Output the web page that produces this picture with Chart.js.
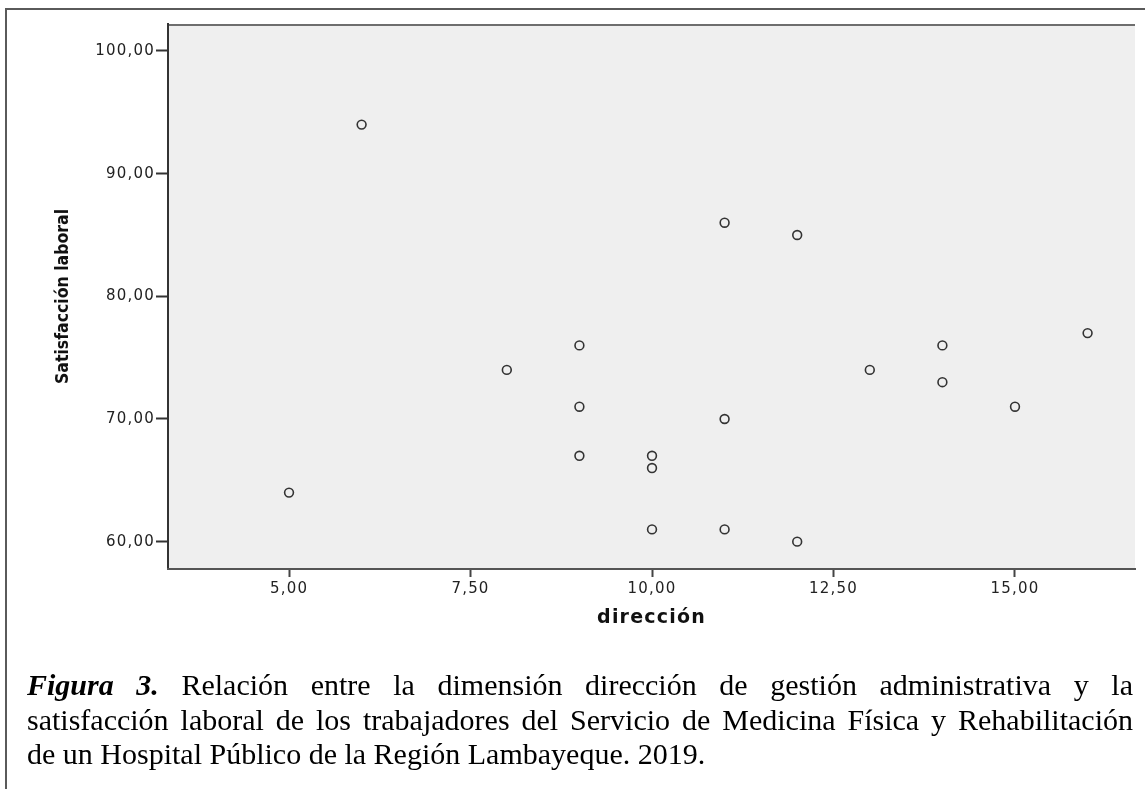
<!DOCTYPE html>
<html>
<head>
<meta charset="utf-8">
<script src="https://cdn.jsdelivr.net/npm/chart.js@4"></script>
<style>
  html, body { margin: 0; padding: 0; background: #fff; }
  body { width: 1145px; height: 789px; overflow: hidden; position: relative; }
  #grafico { position: absolute; left: 0; top: 0; display: block; }
  #leyenda { position: absolute; left: 27px; top: 668px; width: 1106px;
             font-family: 'Liberation Serif', 'Times New Roman', serif; font-size: 30px;
             line-height: 34.5px; color: #000; }
  .j { text-align: justify; text-align-last: justify; }
</style>
</head>
<body>
<canvas id="grafico" width="1145" height="789"></canvas>
<div id="leyenda">
  <div class="j"><b><i>Figura 3.</i></b> Relación entre la dimensión dirección de gestión administrativa y la</div>
  <div class="j">satisfacción laboral de los trabajadores del Servicio de Medicina Física y Rehabilitación</div>
  <div>de un Hospital Público de la Región Lambayeque. 2019.</div>
</div>
<script>
// datos (dirección vs satisfacción laboral)
const direccion = [5, 6, 8, 9, 9, 9, 10, 10, 10, 11, 11, 11, 12, 12, 13, 14, 14, 15, 16];
const satisfaccion = [64, 94, 74, 76, 71, 67, 67, 66, 61, 86, 70, 61, 85, 60, 74, 76, 73, 71, 77];

// marcas de los ejes
const xTicks = [5, 7.5, 10, 12.5, 15];
const xTickLabels = ['5,00', '7,50', '10,00', '12,50', '15,00'];
const yTicks = [60, 70, 80, 90, 100];
const yTickLabels = ['60,00', '70,00', '80,00', '90,00', '100,00'];

const puntos = direccion.map((d, i) => ({ x: d, y: satisfaccion[i] }));

// marco de la figura, fondo gris del área y espaciado de letras (estilo SPSS)
const fondo = {
  id: 'fondo',
  beforeDraw(chart) {
    const { ctx, chartArea: a } = chart;
    ctx.letterSpacing = '0px';
    ctx.save();
    // marco exterior
    ctx.strokeStyle = '#5a5a5a';
    ctx.lineWidth = 2;
    ctx.beginPath();
    ctx.moveTo(6, chart.height);
    ctx.lineTo(6, 9);
    ctx.lineTo(chart.width, 9);
    ctx.stroke();
    // área del gráfico
    ctx.fillStyle = '#efefef';
    ctx.fillRect(a.left, a.top, a.right - a.left, a.bottom - a.top);
    ctx.strokeStyle = '#6e6e6e';
    ctx.beginPath();
    ctx.moveTo(a.left, a.top + 1);
    ctx.lineTo(a.right, a.top + 1);
    ctx.stroke();
    ctx.restore();
  },
  afterDatasetsDraw(chart) { chart.ctx.letterSpacing = '1.2px'; },
  afterDraw(chart) { chart.ctx.letterSpacing = '0px'; }
};

const ctx = document.getElementById('grafico').getContext('2d');
const grafico = new Chart(ctx, {
  type: 'scatter',
  data: {
    datasets: [{
      label: 'Satisfacción laboral',
      data: puntos,
      pointStyle: 'circle',
      pointRadius: 4.4,
      pointHoverRadius: 4.4,
      pointBackgroundColor: 'rgba(0,0,0,0)',
      pointBorderColor: '#333',
      pointBorderWidth: 1.6
    }]
  },
  options: {
    responsive: false,
    devicePixelRatio: 1,
    animation: false,
    events: [],
    layout: { padding: { top: 24, right: 10, left: 0, bottom: 149 } },
    plugins: { legend: { display: false }, tooltip: { enabled: false } },
    scales: {
      x: {
        type: 'linear',
        min: 3.333, max: 16.653,
        afterBuildTicks: s => { s.ticks = xTicks.map(v => ({ value: v })); },
        afterFit: s => { s.height = 71; },
        grid: { z: 1, drawOnChartArea: false, drawTicks: true, tickLength: 8, tickWidth: 2, tickColor: '#444' },
        border: { z: 1, display: true, color: '#555', width: 2 },
        ticks: {
          z: 1, autoSkip: false, maxRotation: 0, padding: 3, color: '#222',
          font: { family: "'DejaVu Sans', sans-serif", size: 15 },
          callback: v => xTickLabels[xTicks.indexOf(v)]
        },
        title: {
          display: true, text: 'dirección', color: '#111',
          font: { family: "'DejaVu Sans', sans-serif", size: 19, weight: 'bold' },
          padding: { top: 0, bottom: 11 }
        }
      },
      y: {
        type: 'linear',
        min: 57.77, max: 102.2,
        afterBuildTicks: s => { s.ticks = yTicks.map(v => ({ value: v })); },
        afterFit: s => { s.width = 168; },
        grid: { drawOnChartArea: false, drawTicks: true, tickLength: 12, tickWidth: 2, tickColor: '#333' },
        border: { display: true, color: '#333', width: 2 },
        ticks: {
          z: 1, autoSkip: false, padding: 1, color: '#222',
          font: { family: "'DejaVu Sans', sans-serif", size: 15 },
          callback: v => yTickLabels[yTicks.indexOf(v)]
        },
        title: {
          display: true, text: 'Satisfacción laboral', color: '#111',
          font: { family: "'DejaVu Sans Condensed', 'Liberation Sans', sans-serif", size: 17.5, weight: 'bold' },
          padding: { top: 53, bottom: 0 }
        }
      }
    }
  },
  plugins: [fondo]
});
</script>
</body>
</html>
